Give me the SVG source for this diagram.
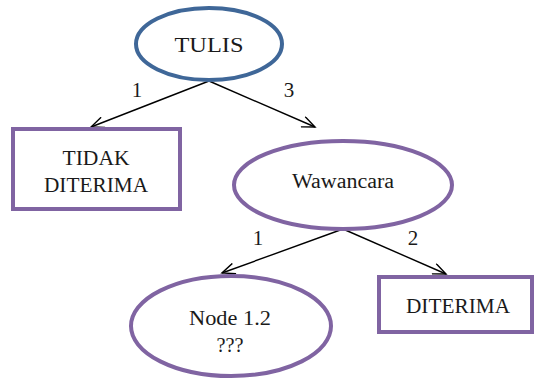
<svg xmlns="http://www.w3.org/2000/svg" width="537" height="385" viewBox="0 0 537 385">
<style>
.t{font-family:'Liberation Serif','Tinos','DejaVu Serif','Noto Serif',serif;fill:#1a1a1a;text-anchor:middle}
.n{font-size:20px}
.l{font-size:21px}
.p{fill:#fff;stroke:#8064a2;stroke-width:4}
.b{fill:#fff;stroke:#3f6798;stroke-width:4}
.e{stroke:#000;stroke-width:1.4;fill:none}
</style>
<defs>
<marker id="a" markerWidth="16" markerHeight="12" refX="14" refY="6" orient="auto" markerUnits="userSpaceOnUse">
<path d="M1,0.5 L14,6 L1,11.5" fill="none" stroke="#000" stroke-width="1.4"/>
</marker>
</defs>
<rect width="537" height="385" fill="#fff"/>
<g id="edges">
<line class="e" x1="209" y1="81" x2="91" y2="127" marker-end="url(#a)"/>
<line class="e" x1="209" y1="81" x2="315" y2="127" marker-end="url(#a)"/>
<line class="e" x1="343" y1="229" x2="222" y2="273" marker-end="url(#a)"/>
<line class="e" x1="343" y1="229" x2="446" y2="274" marker-end="url(#a)"/>
<g class="t l">
<text x="137" y="97">1</text>
<text x="289" y="97">3</text>
<text x="258" y="245">1</text>
<text x="413" y="245">2</text>
</g>
</g>
<g id="tulis">
<ellipse class="b" cx="209" cy="44" rx="73" ry="36"/>
<text class="t n" x="209" y="52" textLength="69" lengthAdjust="spacingAndGlyphs">TULIS</text>
</g>
<g id="tidak">
<rect class="p" x="13" y="129" width="167" height="80"/>
<text class="t n" x="96" y="165" textLength="67" lengthAdjust="spacingAndGlyphs">TIDAK</text>
<text class="t n" x="96" y="192" textLength="104" lengthAdjust="spacingAndGlyphs">DITERIMA</text>
</g>
<g id="wawancara">
<ellipse class="p" cx="343" cy="185" rx="109" ry="44"/>
<text class="t n" x="343" y="188" textLength="102" lengthAdjust="spacingAndGlyphs">Wawancara</text>
</g>
<g id="node12">
<ellipse class="p" cx="231" cy="326" rx="100" ry="50"/>
<text class="t n" x="230" y="325" textLength="82" lengthAdjust="spacingAndGlyphs">Node 1.2</text>
<text class="t n" x="230" y="352" textLength="27" lengthAdjust="spacingAndGlyphs">???</text>
</g>
<g id="diterima">
<rect class="p" x="379" y="277" width="153" height="55"/>
<text class="t n" x="458" y="313" textLength="104" lengthAdjust="spacingAndGlyphs">DITERIMA</text>
</g>
</svg>
